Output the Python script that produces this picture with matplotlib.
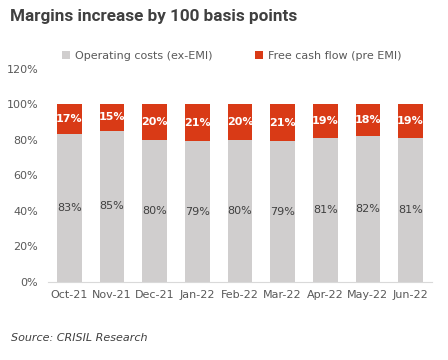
import matplotlib
matplotlib.use("Agg")
import matplotlib.pyplot as plt
from matplotlib.ticker import FuncFormatter, MultipleLocator

months = ["Oct-21", "Nov-21", "Dec-21", "Jan-22", "Feb-22", "Mar-22", "Apr-22", "May-22", "Jun-22"]
op_costs = [83, 85, 80, 79, 80, 79, 81, 82, 81]
free_cash = [17, 15, 20, 21, 20, 21, 19, 18, 19]

GRAY = "#D0CECE"
RED = "#D93A16"
TXT = "#595959"

plt.rcParams['font.family'] = ['DejaVu Sans']
fig = plt.figure(figsize=(4.48, 3.6), dpi=100)
ax = fig.add_axes([0.107, 0.2167, 0.857, 0.593])

x = range(len(months))
w = 0.58
ax.bar(x, op_costs, width=w, color=GRAY, label="Operating costs (ex-EMI)")
ax.bar(x, free_cash, width=w, bottom=op_costs, color=RED, label="Free cash flow (pre EMI)")

for i, (a, b) in enumerate(zip(op_costs, free_cash)):
    ax.text(i, a / 2, f"{a}%", ha="center", va="center", color="#404040", fontsize=8)
    ax.text(i, a + b / 2, f"{b}%", ha="center", va="center", color="white", fontsize=8, fontweight="bold")

ax.set_xlim(-0.5, len(months) - 0.5)
ax.set_ylim(0, 120)
ax.yaxis.set_major_locator(MultipleLocator(20))
ax.yaxis.set_major_formatter(FuncFormatter(lambda v, p: f"{int(v)}%"))
ax.set_xticks(list(x))
ax.set_xticklabels(months)
ax.tick_params(axis="both", length=0, labelsize=8, colors=TXT)
ax.tick_params(axis="y", pad=7)
ax.tick_params(axis="x", pad=6)
for s in ["top", "right", "left"]:
    ax.spines[s].set_visible(False)
ax.spines["bottom"].set_color("#D9D9D9")

h, l = ax.get_legend_handles_labels()
fig.legend(h, l, loc="center", bbox_to_anchor=(232 / 448, 1 - 56 / 360),
           bbox_transform=fig.transFigure, ncol=2, frameon=False,
           fontsize=8, handlelength=0.7, handleheight=0.7, columnspacing=3.8,
           handletextpad=0.5, labelcolor=TXT)

fig.text(0.022, 0.953, "Margins increase by 100 basis points", fontsize=12.3, fontweight="bold",
         family=["Roboto", "DejaVu Sans"], color="#404040", ha="left", va="center")
fig.text(0.025, 0.062, "Source: CRISIL Research", fontsize=8, fontstyle="italic",
         color="#404040", ha="left", va="center")

fig.savefig("out.png", dpi=100)
